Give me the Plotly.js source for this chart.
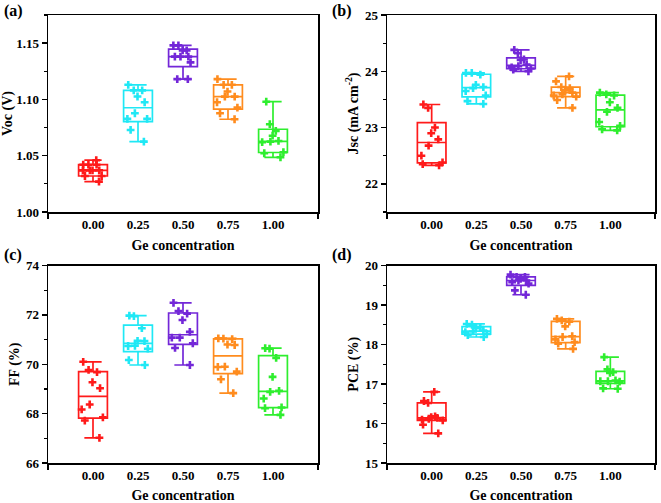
<!DOCTYPE html>
<html>
<head>
<meta charset="utf-8">
<script src="https://cdn.plot.ly/plotly-3.0.1.min.js"></script>
<style>html,body{margin:0;padding:0;background:#fff;}#chart{width:661px;height:503px;}</style>
</head>
<body>
<div id="chart"></div>
<script>
// ---- data ----
const categories = [0.00, 0.25, 0.50, 0.75, 1.00];
const tickLabels = ['0.00', '0.25', '0.50', '0.75', '1.00'];
const groupColors = ['#FF1A1A', '#1FE8F5', '#7327D8', '#FF8C1E', '#2EEE2E'];

const voc = [
  [1.046, 1.042, 1.042, 1.042, 1.037, 1.037, 1.037, 1.037, 1.032, 1.032, 1.027],
  [1.113, 1.108, 1.108, 1.1026, 1.0975, 1.0877, 1.0827, 1.0827, 1.0729, 1.0625],
  [1.148, 1.148, 1.1436, 1.1436, 1.138, 1.138, 1.138, 1.1329, 1.118, 1.118],
  [1.118, 1.113, 1.113, 1.107, 1.1025, 1.1025, 1.0975, 1.0927, 1.0877, 1.0824],
  [1.098, 1.078, 1.072, 1.0678, 1.0631, 1.0625, 1.062, 1.0531, 1.0522, 1.0486]
];
const jsc = [
  [23.41, 23.35, 23.00, 22.90, 22.79, 22.68, 22.50, 22.38, 22.35, 22.33],
  [23.97, 23.97, 23.94, 23.76, 23.72, 23.70, 23.65, 23.57, 23.47, 23.42],
  [24.38, 24.32, 24.21, 24.20, 24.12, 24.09, 24.07, 24.05, 24.03, 24.00],
  [23.91, 23.82, 23.72, 23.70, 23.66, 23.62, 23.59, 23.57, 23.55, 23.49, 23.35],
  [23.62, 23.59, 23.57, 23.45, 23.35, 23.28, 23.10, 23.03, 22.97, 22.95]
];
const ff = [
  [70.10, 69.77, 69.68, 69.27, 69.03, 68.37, 68.17, 67.85, 67.72, 67.02],
  [71.97, 71.95, 71.46, 70.95, 70.94, 70.75, 70.74, 70.63, 70.17, 69.97],
  [72.49, 72.15, 72.05, 71.79, 71.31, 71.08, 71.08, 70.85, 70.66, 69.97],
  [71.05, 71.04, 71.02, 70.80, 70.78, 69.90, 69.89, 69.70, 69.39, 68.83],
  [70.65, 70.63, 70.26, 69.49, 68.92, 68.88, 68.61, 68.25, 68.22, 67.95]
];
const pce = [
  [16.80, 16.57, 16.52, 16.18, 16.16, 16.14, 16.12, 16.10, 16.08, 15.97, 15.75],
  [18.52, 18.50, 18.44, 18.41, 18.35, 18.33, 18.31, 18.27, 18.24, 18.19],
  [19.77, 19.71, 19.71, 19.66, 19.62, 19.62, 19.58, 19.54, 19.37, 19.26],
  [18.65, 18.61, 18.58, 18.46, 18.21, 18.19, 18.13, 18.06, 18.02, 17.89],
  [17.68, 17.37, 17.30, 17.28, 17.09, 17.07, 17.07, 17.06, 16.89, 16.88]
];

// ---- helpers ----
function quant(arr, p) {
  const s = arr.slice().sort((a, b) => a - b);
  const n = s.length;
  let pos = (n + 1) * p;
  if (pos < 1) pos = 1;
  if (pos > n) pos = n;
  const lo = Math.floor(pos), hi = Math.ceil(pos);
  return s[lo - 1] + (pos - lo) * (s[hi - 1] - s[lo - 1]);
}

const FONT = 'Liberation Serif, Times New Roman, serif';
const BOXW = 0.16;
const traces = [];

function addPanel(data, xa, ya) {
  data.forEach((vals, i) => {
    const c = categories[i];
    traces.push({
      type: 'box', x: [c],
      q1: [quant(vals, 0.25)], median: [quant(vals, 0.5)], q3: [quant(vals, 0.75)],
      lowerfence: [Math.min(...vals)], upperfence: [Math.max(...vals)],
      width: BOXW, whiskerwidth: 0.6, boxpoints: false,
      line: { color: groupColors[i], width: 1.7 },
      fillcolor: 'rgba(0,0,0,0)',
      xaxis: xa, yaxis: ya, hoverinfo: 'skip', showlegend: false
    });
    traces.push({
      type: 'box', x: vals.map(() => c), y: vals,
      width: BOXW, boxpoints: 'all', jitter: 1.0, pointpos: 0,
      line: { color: 'rgba(0,0,0,0)', width: 0 },
      fillcolor: 'rgba(0,0,0,0)',
      marker: { color: groupColors[i], symbol: 'cross', size: 6.5 },
      xaxis: xa, yaxis: ya, showlegend: false
    });
  });
}
addPanel(voc, 'x', 'y');
addPanel(jsc, 'x2', 'y2');
addPanel(ff, 'x3', 'y3');
addPanel(pce, 'x4', 'y4');

function xAxis(domain, anchor) {
  return {
    domain: domain, anchor: anchor, range: [-0.25, 1.25],
    tickmode: 'array', tickvals: categories, ticktext: tickLabels,
    ticks: '', showline: true, mirror: true, linecolor: '#000', linewidth: 1.5,
    showgrid: false, zeroline: false,
    minor: { tickmode: 'array', tickvals: [-0.25, 1.25], ticks: 'outside', ticklen: 5, tickwidth: 1.5, tickcolor: '#000' },
    tickfont: { family: FONT, size: 13, color: '#000', weight: 'bold' },
    title: { text: 'Ge concentration', standoff: 9, font: { family: FONT, size: 14, color: '#000', weight: 'bold' } }
  };
}
function yAxis(domain, anchor, range, dtick, minorD, fmt, title) {
  return {
    domain: domain, anchor: anchor, range: range,
    tickmode: 'linear', tick0: 0, dtick: dtick, tickformat: fmt,
    ticks: 'outside', ticklen: 5, tickwidth: 1.5, tickcolor: '#000',
    minor: { tick0: 0, dtick: minorD, ticks: 'outside', ticklen: 3, tickwidth: 1.2, tickcolor: '#000' },
    showline: true, mirror: true, linecolor: '#000', linewidth: 1.5,
    showgrid: false, zeroline: false,
    tickfont: { family: FONT, size: 13, color: '#000', weight: 'bold' },
    title: { text: title, standoff: 3, font: { family: FONT, size: 14, color: '#000', weight: 'bold' } }
  };
}

const W = 661, H = 503;
const dxL = [48 / W, 318 / W], dxR = [387 / W, 655 / W];
const dyT = [1 - 212 / H, 1 - 15 / H], dyB = [1 - 463 / H, 1 - 265.5 / H];

const layout = {
  width: W, height: H,
  margin: { l: 0, r: 0, t: 0, b: 0 },
  paper_bgcolor: '#fff', plot_bgcolor: '#fff',
  boxmode: 'overlay', showlegend: false,
  xaxis: xAxis(dxL, 'y'),
  yaxis: yAxis(dyT, 'x', [1.0, 1.175], 0.05, 0.025, '.2f', 'Voc (V)'),
  xaxis2: xAxis(dxR, 'y2'),
  yaxis2: yAxis(dyT, 'x2', [21.5, 25], 1, 0.5, 'd', 'Jsc (mA cm<sup>-2</sup>)'),
  xaxis3: xAxis(dxL, 'y3'),
  yaxis3: yAxis(dyB, 'x3', [66, 74], 2, 1, 'd', 'FF (%)'),
  xaxis4: xAxis(dxR, 'y4'),
  yaxis4: yAxis(dyB, 'x4', [15, 20], 1, 0.5, 'd', 'PCE (%)'),
  annotations: [
    ['(a)', 2, 11], ['(b)', 330, 11], ['(c)', 2, 255], ['(d)', 330, 255]
  ].map(([t, px, py]) => ({
    text: t, xref: 'paper', yref: 'paper', x: px / W, y: 1 - py / H,
    xanchor: 'left', yanchor: 'middle', showarrow: false,
    font: { family: FONT, size: 16, color: '#000', weight: 'bold' }
  }))
};

Plotly.newPlot('chart', traces, layout, { displayModeBar: false, staticPlot: true });
</script>
</body>
</html>
